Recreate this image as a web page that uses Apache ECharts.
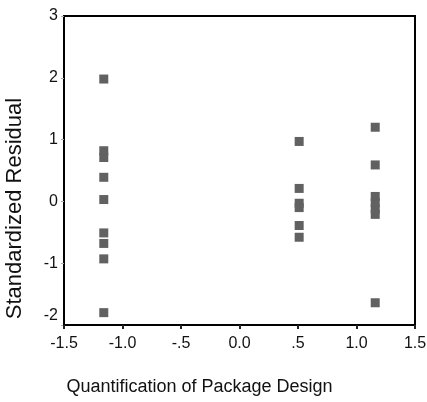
<!DOCTYPE html>
<html>
<head>
<meta charset="utf-8">
<script src="https://cdn.jsdelivr.net/npm/echarts@6/dist/echarts.min.js"></script>
<style>
html,body{margin:0;padding:0;background:#fff;}
#chart{width:427px;height:402px;}
</style>
</head>
<body>
<div id="chart"></div>
<script>
// x positions of the three design groups
var groupx = [-1.16, 0.51, 1.16];
// standardized residuals per group
var resid1 = [1.98, 0.82, 0.71, 0.39, 0.03, -0.51, -0.68, -0.93, -1.80];
var resid2 = [0.97, 0.21, -0.03, -0.10, -0.39, -0.58];
var resid3 = [1.20, 0.59, 0.08, -0.02, -0.12, -0.21, -1.64];
var xticks = ['-1.5', '-1.0', '-.5', '0.0', '.5', '1.0', '1.5'];

var points = [];
[resid1, resid2, resid3].forEach(function(arr, i){
	arr.forEach(function(v){ points.push([groupx[i], v]); });
});

var fontname = 'Liberation Sans, Arial, sans-serif';
var chart = echarts.init(document.getElementById('chart'));

chart.setOption({
	animation: false,
	grid: {left: 64, right: 12, top: 16, bottom: 77, show: true, borderColor: '#000', borderWidth: 2,
		containLabel: false, outerBoundsMode: 'none'},
	xAxis: {
		type: 'value', min: -1.5, max: 1.5, interval: 0.5,
		name: 'Quantification of Package Design',
		nameLocation: 'middle', nameGap: 53,
		nameTextStyle: {fontFamily: fontname, fontSize: 18, color: '#111', padding: [0, 80, 0, 0]},
		axisLine: {onZero: false, lineStyle: {color: '#000', width: 2}},
		axisTick: {length: 4, lineStyle: {color: '#222', width: 2}},
		splitLine: {show: false},
		axisLabel: {
			fontFamily: fontname, fontSize: 16, color: '#111', margin: 11,
			formatter: function(v){ return xticks[Math.round((v + 1.5) * 2)]; }
		}
	},
	yAxis: {
		type: 'value', min: -2, max: 3, interval: 1,
		name: 'Standardized Residual',
		nameLocation: 'middle', nameGap: 38,
		nameTextStyle: {fontFamily: fontname, fontSize: 22, color: '#111', padding: [0, 76, 0, 0]},
		axisLine: {onZero: false, lineStyle: {color: '#000', width: 2}},
		axisTick: {length: 3, lineStyle: {color: '#aaa', width: 1}},
		splitLine: {show: false},
		axisLabel: {
			fontFamily: fontname, fontSize: 16, color: '#111', margin: 6,
			formatter: function(v){ return v === -2 ? '{lo|-2}' : String(v); },
			rich: {lo: {fontFamily: fontname, fontSize: 16, color: '#111', padding: [0, 0, 18, 0]}}
		}
	},
	series: [{
		type: 'scatter',
		symbol: 'rect',
		symbolSize: 9,
		itemStyle: {color: '#616161', opacity: 1},
		data: points
	}]
});
</script>
</body>
</html>
